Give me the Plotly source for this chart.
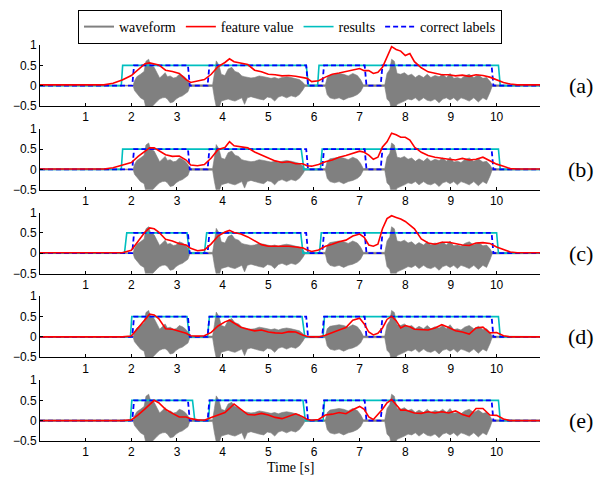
import plotly.graph_objects as go

# ---------------- data ----------------
X_TICKS = [1, 2, 3, 4, 5, 6, 7, 8, 9, 10]
Y_TICKS = [-0.5, 0, 0.5, 1]
PANEL_NAMES = ["(a)", "(b)", "(c)", "(d)", "(e)"]

# waveform envelope (upper / lower)
WAVE_T = [0, 2.04, 2.07, 2.12, 2.2, 2.28, 2.32, 2.38, 2.42, 2.5, 2.57, 2.62, 2.68, 2.74, 2.79, 2.85,
          2.92, 2.98, 3.05, 3.12, 3.18, 3.24, 3.28, 3.78, 3.82, 3.86, 3.92, 3.97, 4.05, 4.12, 4.2,
          4.27, 4.35, 4.42, 4.48, 4.54, 4.62, 4.7, 4.8, 4.9, 4.98, 5.06, 5.14, 5.22, 5.3, 5.4, 5.5,
          5.6, 5.68, 5.76, 5.8, 6.25, 6.29, 6.35, 6.45, 6.55, 6.65, 6.75, 6.85, 6.95, 7.02, 7.08,
          7.55, 7.6, 7.66, 7.7, 7.76, 7.82, 7.9, 7.98, 8.06, 8.14, 8.22, 8.3, 8.4, 8.48, 8.56, 8.65,
          8.74, 8.82, 8.9, 8.98, 9.06, 9.14, 9.22, 9.3, 9.4, 9.5, 9.6, 9.7, 9.78, 9.86, 9.9, 10.95]
WAVE_UP = [0.01, 0.01, 0.12, 0.22, 0.28, 0.35, 0.6, 0.65, 0.5, 0.45, 0.3, 0.19, 0.25, 0.32, 0.22, 0.24,
           0.19, 0.2, 0.28, 0.25, 0.2, 0.12, 0.02, 0.02, 0.3, 0.61, 0.5, 0.28, 0.25, 0.41, 0.45,
           0.35, 0.32, 0.24, 0.22, 0.2, 0.19, 0.2, 0.24, 0.22, 0.2, 0.18, 0.2, 0.17, 0.2, 0.22, 0.2,
           0.18, 0.15, 0.08, 0.02, 0.02, 0.2, 0.26, 0.28, 0.3, 0.28, 0.24, 0.3, 0.25, 0.15, 0.02,
           0.02, 0.3, 0.4, 0.65, 0.6, 0.3, 0.28, 0.32, 0.25, 0.28, 0.2, 0.26, 0.2, 0.28, 0.2, 0.25,
           0.22, 0.28, 0.2, 0.3, 0.18, 0.2, 0.17, 0.24, 0.28, 0.2, 0.26, 0.18, 0.2, 0.1, 0.02, 0.01]
WAVE_LO = [-0.01, -0.01, -0.12, -0.2, -0.3, -0.35, -0.55, -0.6, -0.55, -0.46, -0.38, -0.33, -0.3, -0.29, -0.33, -0.42,
           -0.4, -0.33, -0.28, -0.25, -0.2, -0.15, -0.02, -0.02, -0.3, -0.52, -0.55, -0.38, -0.35, -0.33, -0.36,
           -0.38, -0.33, -0.3, -0.46, -0.3, -0.27, -0.3, -0.33, -0.35, -0.28, -0.3, -0.38, -0.28, -0.25, -0.3, -0.25,
           -0.28, -0.22, -0.1, -0.02, -0.02, -0.22, -0.3, -0.33, -0.3, -0.35, -0.3, -0.27, -0.22, -0.15, -0.02,
           -0.02, -0.33, -0.4, -0.6, -0.6, -0.46, -0.42, -0.38, -0.33, -0.35, -0.3, -0.38, -0.3, -0.36, -0.38, -0.33,
           -0.42, -0.33, -0.3, -0.35, -0.3, -0.38, -0.3, -0.33, -0.38, -0.3, -0.4, -0.3, -0.35, -0.15, -0.02, -0.01]

# feature value curves (shared time grid)
T_FEAT = [0, 1.4, 1.6, 1.8, 2.0, 2.15, 2.3, 2.4, 2.5, 2.6, 2.75, 2.9, 3.05, 3.2, 3.3, 3.45, 3.6, 3.75,
          3.9, 4.05, 4.15, 4.25, 4.4, 4.55, 4.7, 4.85, 5.0, 5.15, 5.3, 5.45, 5.6, 5.75, 5.85, 5.95,
          6.1, 6.25, 6.4, 6.55, 6.7, 6.85, 7.0, 7.1, 7.2, 7.3, 7.4, 7.5, 7.6, 7.7, 7.8, 7.9, 8.0,
          8.1, 8.2, 8.35, 8.5, 8.65, 8.8, 8.95, 9.1, 9.25, 9.4, 9.55, 9.7, 9.85, 10.0, 10.15, 10.3,
          10.45, 10.95]
FEAT_A = [0.02, 0.02, 0.06, 0.14, 0.25, 0.40, 0.54, 0.56, 0.54, 0.51, 0.38, 0.35, 0.30, 0.15, 0.08,
          0.12, 0.15, 0.28, 0.47, 0.57, 0.66, 0.59, 0.55, 0.52, 0.38, 0.34, 0.28, 0.27, 0.24, 0.25,
          0.23, 0.21, 0.18, 0.10, 0.12, 0.21, 0.28, 0.31, 0.35, 0.39, 0.42, 0.37, 0.37, 0.30, 0.33,
          0.45, 0.70, 0.96, 0.89, 0.85, 0.74, 0.79, 0.59, 0.44, 0.34, 0.31, 0.27, 0.27, 0.24, 0.26,
          0.23, 0.27, 0.25, 0.21, 0.15, 0.08, 0.04, 0.02, 0.02]
FEAT_B = [0.01, 0.01, 0.04, 0.10, 0.17, 0.32, 0.46, 0.53, 0.53, 0.47, 0.36, 0.32, 0.33, 0.23, 0.11,
          0.09, 0.12, 0.28, 0.49, 0.54, 0.68, 0.58, 0.55, 0.53, 0.43, 0.36, 0.30, 0.21, 0.17, 0.19,
          0.14, 0.14, 0.09, 0.08, 0.12, 0.19, 0.23, 0.30, 0.34, 0.40, 0.45, 0.42, 0.35, 0.25, 0.30,
          0.55, 0.68, 0.89, 0.85, 0.79, 0.79, 0.72, 0.55, 0.42, 0.34, 0.30, 0.27, 0.25, 0.23, 0.27,
          0.23, 0.25, 0.30, 0.22, 0.13, 0.08, 0.02, 0.01, 0.01]
FEAT_C = [0.01, 0.01, 0.01, 0.01, 0.07, 0.30, 0.52, 0.62, 0.60, 0.52, 0.34, 0.30, 0.23, 0.20, 0.12,
          0.06, 0.08, 0.23, 0.42, 0.52, 0.56, 0.51, 0.47, 0.40, 0.30, 0.21, 0.17, 0.17, 0.17, 0.17,
          0.15, 0.13, 0.08, 0.04, 0.08, 0.17, 0.22, 0.28, 0.32, 0.42, 0.47, 0.39, 0.20, 0.17, 0.22,
          0.60, 0.85, 0.92, 0.88, 0.84, 0.78, 0.70, 0.60, 0.35, 0.25, 0.22, 0.27, 0.27, 0.23, 0.20,
          0.19, 0.25, 0.26, 0.24, 0.15, 0.08, 0.03, 0.01, 0.01]
FEAT_D = [0.0, 0.0, 0.0, 0.0, 0.02, 0.22, 0.41, 0.56, 0.54, 0.45, 0.20, 0.19, 0.14, 0.09, 0.03,
          0.02, 0.03, 0.11, 0.27, 0.37, 0.41, 0.34, 0.24, 0.19, 0.15, 0.17, 0.12, 0.10, 0.09, 0.13,
          0.12, 0.05, 0.01, 0.0, 0.0, 0.04, 0.11, 0.17, 0.23, 0.41, 0.46, 0.32, 0.12, 0.05, 0.09,
          0.22, 0.43, 0.51, 0.40, 0.22, 0.28, 0.25, 0.19, 0.18, 0.17, 0.22, 0.30, 0.23, 0.15, 0.12,
          0.07, 0.22, 0.24, 0.10, 0.11, 0.03, 0.0, 0.0, 0.0]
FEAT_E = [0.0, 0.0, 0.0, 0.0, 0.02, 0.14, 0.29, 0.39, 0.50, 0.44, 0.28, 0.18, 0.09, 0.09, 0.05,
          0.02, 0.01, 0.08, 0.14, 0.20, 0.30, 0.41, 0.28, 0.15, 0.14, 0.18, 0.14, 0.08, 0.05, 0.11,
          0.17, 0.10, 0.03, 0.01, 0.03, 0.14, 0.16, 0.20, 0.17, 0.27, 0.35, 0.28, 0.09, 0.03, 0.15,
          0.28, 0.44, 0.52, 0.39, 0.26, 0.26, 0.22, 0.19, 0.18, 0.22, 0.19, 0.22, 0.19, 0.24, 0.15,
          0.10, 0.30, 0.30, 0.14, 0.13, 0.04, 0.0, 0.0, 0.0]

# detection results (step curves)
RES_T_A = [0, 1.78, 1.81, 5.83, 5.88, 6.08, 6.11, 10.04, 10.08, 10.95]
RES_V_A = [0, 0, 0.5, 0.5, 0, 0, 0.5, 0.5, 0, 0]
RES_T_B = [0, 1.78, 1.81, 5.72, 5.78, 6.14, 6.18, 10.04, 10.08, 10.95]
RES_V_B = [0, 0, 0.5, 0.5, 0, 0, 0.5, 0.5, 0, 0]
RES_T_C = [0, 1.85, 1.90, 3.22, 3.27, 3.60, 3.65, 5.71, 5.76, 6.12, 6.16, 10.0, 10.04, 10.95]
RES_V_C = [0, 0, 0.5, 0.5, 0, 0, 0.5, 0.5, 0, 0, 0.5, 0.5, 0, 0]
RES_T_D = [0, 1.98, 2.01, 3.22, 3.27, 3.67, 3.71, 5.74, 5.80, 6.20, 6.23, 10.04, 10.08, 10.95]
RES_V_D = [0, 0, 0.5, 0.5, 0, 0, 0.5, 0.5, 0, 0, 0.5, 0.5, 0, 0]
RES_T_E = [0, 1.98, 2.01, 3.34, 3.39, 3.69, 3.72, 5.76, 5.81, 6.20, 6.23, 10.04, 10.08, 10.95]
RES_V_E = [0, 0, 0.5, 0.5, 0, 0, 0.5, 0.5, 0, 0, 0.5, 0.5, 0, 0]

# correct labels
LAB_T = [0, 2.02, 2.06, 3.24, 3.28, 3.67, 3.71, 5.83, 5.87, 6.18, 6.22, 7.11, 7.15, 7.46, 7.50,
         9.89, 9.93, 10.95]
LAB_V = [0, 0, 0.5, 0.5, 0, 0, 0.5, 0.5, 0, 0, 0.5, 0.5, 0, 0, 0.5, 0.5, 0, 0]

FEATS = [FEAT_A, FEAT_B, FEAT_C, FEAT_D, FEAT_E]
RES_T = [RES_T_A, RES_T_B, RES_T_C, RES_T_D, RES_T_E]
RES_V = [RES_V_A, RES_V_B, RES_V_C, RES_V_D, RES_V_E]

# ---------------- styling ----------------
W, H = 604, 477
GRAY = "#808080"
RED = "#ff0000"
CYAN = "#00bfbf"
BLUE = "#0000ff"
TICK_FONT = dict(family="Liberation Sans, Arial", size=12, color="black")
SERIF = "Liberation Serif, Times New Roman"

X_LEFT, X_RIGHT = 40, 540
TOPS = [45, 128.75, 212.5, 296.25, 380]
PH = 61

fig = go.Figure()
layout = {}
for i in range(5):
    sfx = "" if i == 0 else str(i + 1)
    xa, ya = "x" + sfx, "y" + sfx
    top = TOPS[i]
    layout["xaxis" + sfx] = dict(
        domain=[X_LEFT / W, X_RIGHT / W], range=[0, 10.95], anchor=ya,
        tickmode="array", tickvals=X_TICKS, ticks="inside", ticklen=3, tickcolor="black",
        showline=True, linecolor="black", linewidth=1, showgrid=False, zeroline=False,
        tickfont=TICK_FONT, fixedrange=True, automargin=False,
    )
    layout["yaxis" + sfx] = dict(
        domain=[1 - (top + PH) / H, 1 - top / H], range=[-0.5, 1], anchor=xa,
        tickmode="array", tickvals=Y_TICKS, ticktext=["\u22120.5", "0", "0.5", "1"],
        ticks="inside", ticklen=3, tickcolor="black",
        showline=True, linecolor="black", linewidth=1, showgrid=False, zeroline=False,
        tickfont=TICK_FONT, fixedrange=True, automargin=False,
    )
    # waveform envelope
    fig.add_trace(go.Scatter(
        x=WAVE_T + WAVE_T[::-1], y=WAVE_UP + WAVE_LO[::-1], fill="toself",
        fillcolor=GRAY, mode="lines", line=dict(color=GRAY, width=0.6),
        showlegend=False, hoverinfo="skip", xaxis=xa, yaxis=ya))
    # results
    fig.add_trace(go.Scatter(
        x=RES_T[i], y=RES_V[i], mode="lines", line=dict(color=CYAN, width=1.6),
        name="results", legendrank=3, showlegend=(i == 0), xaxis=xa, yaxis=ya))
    # correct labels
    fig.add_trace(go.Scatter(
        x=LAB_T, y=LAB_V, mode="lines", line=dict(color=BLUE, width=1.8, dash="5px,3px"),
        name="correct labels", legendrank=4, showlegend=(i == 0), xaxis=xa, yaxis=ya))
    # feature value
    fig.add_trace(go.Scatter(
        x=T_FEAT, y=FEATS[i], mode="lines", line=dict(color=RED, width=1.6),
        name="feature value", legendrank=2, showlegend=(i == 0), xaxis=xa, yaxis=ya))

# legend entry for the waveform
fig.add_trace(go.Scatter(x=[None], y=[None], mode="lines", line=dict(color=GRAY, width=2),
                         name="waveform", legendrank=1, showlegend=True))

annotations = []
for i, name in enumerate(PANEL_NAMES):
    sfx = "" if i == 0 else str(i + 1)
    annotations.append(dict(
        text=name, x=581 / W, xref="paper", y=0, yref="y" + sfx,
        xanchor="center", yanchor="middle", showarrow=False,
        font=dict(family=SERIF, size=22, color="black")))
annotations.append(dict(
    text="Time [s]", x=290 / W, xref="paper", y=1 - 467 / H, yref="paper",
    xanchor="center", yanchor="middle", showarrow=False,
    font=dict(family=SERIF, size=14, color="black")))

fig.update_layout(
    width=W, height=H, margin=dict(l=0, r=0, t=0, b=0, autoexpand=False),
    paper_bgcolor="white", plot_bgcolor="white",
    showlegend=True,
    legend=dict(orientation="h", x=78 / W, y=1 - 10 / H, xanchor="left", yanchor="top",
                xref="container", yref="container",
                bgcolor="white", bordercolor="black", borderwidth=1,
                font=dict(family=SERIF, size=14, color="black"),
                itemwidth=30, tracegroupgap=0),
    annotations=annotations,
    **layout,
)

fig.write_html("out.html")
